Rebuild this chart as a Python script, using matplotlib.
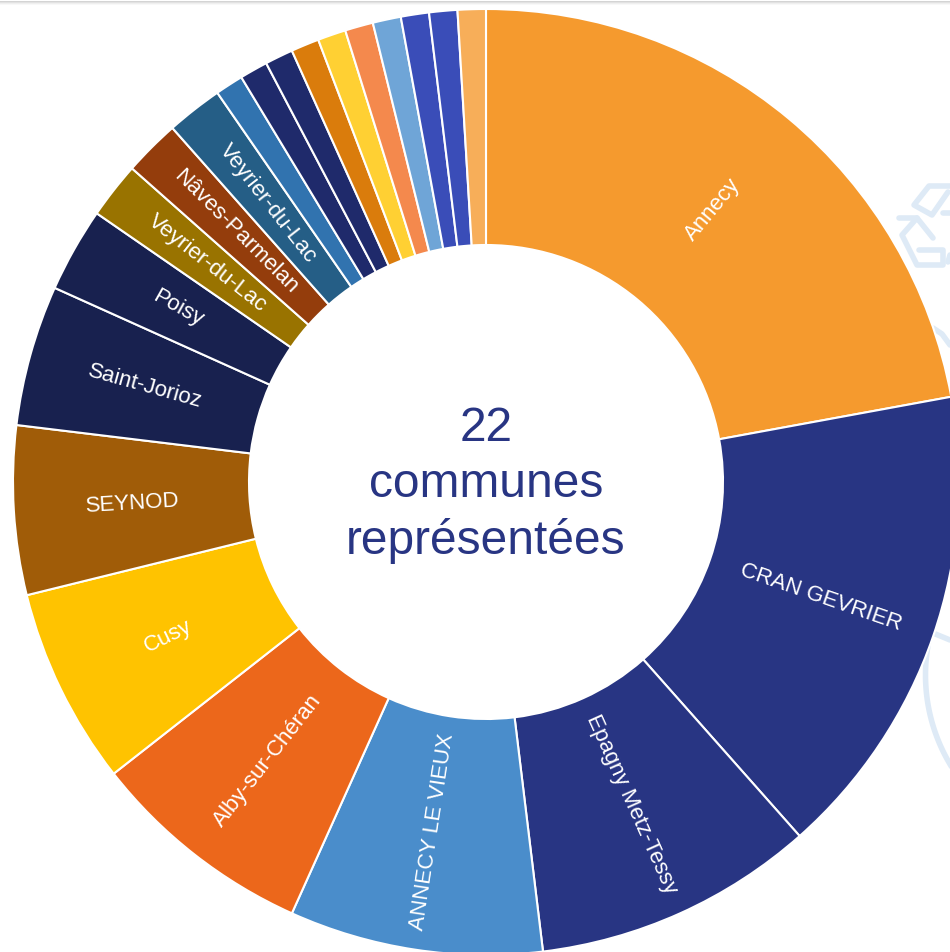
import numpy as np
import matplotlib.pyplot as plt

# Donnees du graphique
communes = ['Annecy', 'CRAN GEVRIER', 'Epagny Metz-Tessy', 'ANNECY LE VIEUX',
            'Alby-sur-Chéran', 'Cusy', 'SEYNOD', 'Saint-Jorioz', 'Poisy',
            'Veyrier-du-Lac', 'Nâves-Parmelan', 'Veyrier-du-Lac',
            '', '', '', '', '', '', '', '', '', '']
valeurs = [23, 17, 10, 9, 8, 7, 6, 5, 3, 2, 2, 2, 1, 1, 1, 1, 1, 1, 1, 1, 1, 1]
couleurs = ['#F59A2E', '#283583', '#283583', '#4A8DCB', '#EC671B', '#FFC300',
            '#A05C08', '#18214F', '#18214F', '#997300', '#943D0C', '#255E86',
            '#3173AF', '#1F2A6B', '#1F2A6B', '#DA7C0C', '#FFD033', '#F4894D',
            '#6FA5D7', '#3A4DB8', '#3A4DB8', '#F7AE59']
titre = '22\ncommunes\nreprésentées'

plt.rcParams['font.family'] = ['Liberation Sans', 'DejaVu Sans']

fig = plt.figure(figsize=(9.5, 9.52), dpi=100)
ax = fig.add_axes([0, 0, 1, 1])

centre = (486, -482)
r_ext = 473
r_int = 237

wedges, _ = ax.pie(valeurs, colors=couleurs, startangle=90, counterclock=False,
                   center=centre, radius=r_ext,
                   wedgeprops={'width': r_ext - r_int, 'edgecolor': 'white', 'linewidth': 1.5, 'zorder': 3})
ax.set_xlim(0, 950)
ax.set_ylim(-952, 0)
ax.axis('off')

# Etiquettes tournees dans l'anneau
r_mil = 354
for w, nom in zip(wedges, communes):
    if nom == '':
        continue
    ang = (w.theta1 + w.theta2) / 2
    c = np.cos(np.radians(ang))
    s = np.sin(np.radians(ang))
    rot = ang if c >= 0 else ang + 180
    ax.text(centre[0] + r_mil * c, centre[1] + r_mil * s, nom, color='white', fontsize=16,
            rotation=rot, rotation_mode='anchor', ha='center', va='center', zorder=4)

ax.text(486, -485, titre, color='#283583', fontsize=34.5, ha='center', va='center',
        linespacing=1.32, zorder=4)

# Decor du fond (pictogramme recyclage et arcs)
bleu_pale = '#DEEAF6'
traits = [
    [(950, 186), (929, 186), (914, 205), (932, 215), (948, 192)],
    [(943, 213), (950, 213)],
    [(899, 218), (917, 218), (933, 238)],
    [(917, 218), (902, 235), (917, 265), (943, 265), (943, 250), (919, 250)],
    [(950, 255), (948, 262)],
    [(933, 328), (942, 334), (950, 345)],
    [(933, 633), (950, 640)],
]
for t in traits:
    xs = [p[0] for p in t]
    ys = [-p[1] for p in t]
    ax.plot(xs, ys, color=bleu_pale, lw=4, solid_capstyle='round', solid_joinstyle='round', zorder=1)
b = np.radians(np.linspace(-10, 31, 40))
ax.plot(1100 - 174.5 * np.cos(b), -(675 + 174.5 * np.sin(b)), color=bleu_pale, lw=4, zorder=1)

# Ombre en haut de l'image
for y, g in zip([0.5, 1.5, 2.5, 3.5], ['#D4D4D4', '#E2E2E2', '#EFEFEF', '#F8F8F8']):
    ax.plot([0, 950], [-y, -y], color=g, lw=0.72, zorder=5)

fig.savefig('out.png', dpi=100)
